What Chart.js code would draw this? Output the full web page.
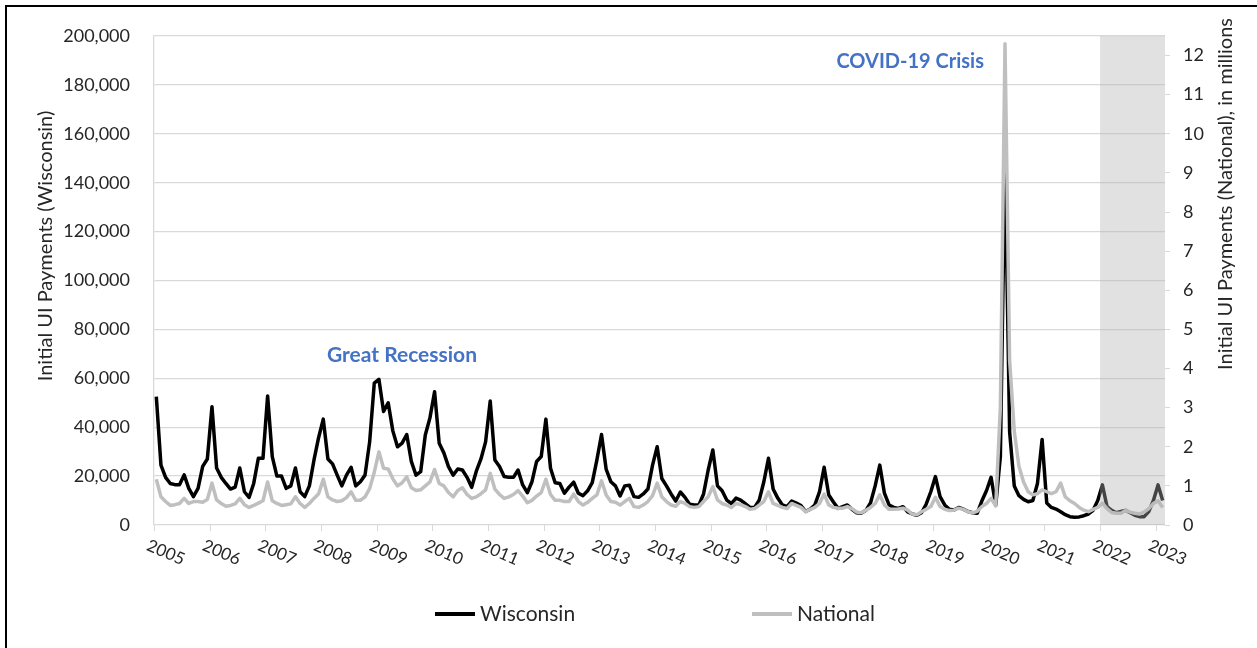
<!DOCTYPE html>
<html>
<head>
<meta charset="utf-8">
<title>Initial UI Payments: Wisconsin vs National</title>
<script src="https://cdn.jsdelivr.net/npm/chart.js@4.4.0/dist/chart.umd.min.js"></script>
<style>
  html, body { margin: 0; padding: 0; background: #fff; }
  #wrap { position: relative; width: 1257px; height: 648px; }
</style>
</head>
<body>
<div id="wrap"><canvas id="uiChart"></canvas></div>
<script>
// Year tick labels on the x axis
const years = [2005, 2006, 2007, 2008, 2009, 2010, 2011, 2012, 2013, 2014,
               2015, 2016, 2017, 2018, 2019, 2020, 2021, 2022, 2023];

// Monthly initial UI payments, Jan 2005 - Feb 2023
const wisconsin = [
  52500, 24500, 19500, 17000, 16500, 16500, 20500, 15000, 11600, 15000, 24000, 27000, // 2005
  48400, 23300, 19500, 17000, 14700, 15500, 23300, 13600, 11300, 17000, 27300, 27300, // 2006
  52800, 28000, 20000, 20000, 15000, 16000, 23300, 13600, 11600, 16000, 26600, 35800, // 2007
  43300, 27000, 25000, 20400, 16000, 20400, 23600, 16000, 17700, 20400, 34000, 58000, // 2008
  59600, 46400, 50000, 38500, 32000, 33500, 37000, 25900, 20400, 21800, 36800, 43800, // 2009
  54500, 33400, 29500, 23900, 20400, 22900, 22500, 19500, 15400, 22000, 27000, 34000, // 2010
  50700, 26600, 23900, 19800, 19500, 19500, 22500, 16400, 13200, 17700, 26000, 28000, // 2011
  43300, 23200, 17300, 17000, 13000, 15500, 17500, 13000, 12000, 14000, 17300, 26600, // 2012
  37000, 22800, 17700, 16000, 11900, 16000, 16300, 11600, 11300, 12700, 14700, 24500, // 2013
  32000, 19000, 16000, 12700,  9800, 13500, 11300,  8500,  8200,  8200, 12700, 22500, // 2014
  30700, 16000, 14000, 10200,  8700, 11000, 10200,  8700,  7200,  7200, 10200, 17700, // 2015
  27300, 14700, 11000,  8200,  7500,  9800,  9000,  8000,  5500,  6500,  8200, 13600, // 2016
  23600, 12300,  9400,  6800,  7500,  8200,  6400,  5000,  4800,  6000,  9000, 16000, // 2017
  24500, 13000,  8200,  7200,  6800,  7500,  5400,  4500,  4000,  5000,  8500, 13600, // 2018
  19800, 11600,  8200,  6400,  6100,  7200,  6500,  5500,  5000,  4800,  9800, 14000, // 2019
  19500,  8000, 28000, 150000, 38000, 16000, 12000, 10500, 9500, 10000, 17000, 35000, // 2020
   9000,  7200,  6500,  5400,  4200,  3400,  3200,  3300,  3800,  4500,  6000, 10000, // 2021
  16400,  7500,  6000,  5000,  5500,  6000,  5000,  4000,  3400,  3400,  5500, 10000, // 2022
  16400, 10000                                                                        // 2023
];

// National, in millions
const national = [
  1.17, 0.72, 0.60, 0.50, 0.52, 0.55, 0.68, 0.55, 0.60, 0.60, 0.58, 0.65, // 2005
  1.07, 0.64, 0.55, 0.48, 0.50, 0.54, 0.68, 0.52, 0.45, 0.50, 0.56, 0.62, // 2006
  1.10, 0.62, 0.55, 0.50, 0.52, 0.54, 0.72, 0.55, 0.45, 0.55, 0.68, 0.80, // 2007
  1.17, 0.72, 0.64, 0.60, 0.62, 0.70, 0.85, 0.63, 0.63, 0.72, 0.93, 1.35, // 2008
  1.87, 1.45, 1.43, 1.18, 1.00, 1.08, 1.23, 0.95, 0.88, 0.90, 1.00, 1.10, // 2009
  1.42, 1.06, 1.00, 0.83, 0.72, 0.88, 0.95, 0.78, 0.68, 0.72, 0.80, 0.90, // 2010
  1.32, 0.92, 0.78, 0.68, 0.72, 0.78, 0.88, 0.74, 0.57, 0.63, 0.74, 0.83, // 2011
  1.17, 0.78, 0.63, 0.63, 0.60, 0.60, 0.79, 0.60, 0.51, 0.58, 0.68, 0.77, // 2012
  1.13, 0.77, 0.60, 0.58, 0.51, 0.60, 0.68, 0.47, 0.45, 0.51, 0.60, 0.75, // 2013
  1.07, 0.72, 0.60, 0.51, 0.48, 0.60, 0.55, 0.47, 0.45, 0.47, 0.60, 0.72, // 2014
  0.98, 0.64, 0.55, 0.51, 0.45, 0.55, 0.52, 0.47, 0.40, 0.42, 0.51, 0.60, // 2015
  0.85, 0.55, 0.50, 0.45, 0.42, 0.55, 0.50, 0.45, 0.34, 0.40, 0.45, 0.55, // 2016
  0.79, 0.51, 0.45, 0.43, 0.43, 0.47, 0.42, 0.33, 0.31, 0.38, 0.45, 0.55, // 2017
  0.77, 0.51, 0.40, 0.40, 0.41, 0.43, 0.38, 0.28, 0.26, 0.34, 0.40, 0.47, // 2018
  0.71, 0.47, 0.40, 0.37, 0.38, 0.43, 0.40, 0.34, 0.31, 0.35, 0.47, 0.55, // 2019
  0.68, 0.49, 3.00, 12.3, 4.20, 2.40, 1.50, 1.10, 0.85, 0.77, 0.80, 0.90, // 2020
  0.85, 0.80, 0.85, 1.07, 0.72, 0.62, 0.55, 0.45, 0.38, 0.34, 0.40, 0.45, // 2021
  0.56, 0.42, 0.32, 0.30, 0.30, 0.37, 0.33, 0.30, 0.28, 0.33, 0.42, 0.55, // 2022
  0.62, 0.45                                                              // 2023
];

const seriesNames = ['Wisconsin', 'National'];
const leftTitle = 'Initial UI Payments (Wisconsin)';
const rightTitle = 'Initial UI Payments (National), in millions';
const shadeFrom = '2022-01';

// Build monthly category labels from the years
const monthLabels = [];
years.forEach(function(y) {
    for (let m = 1; m <= 12 && monthLabels.length < wisconsin.length; m++) {
        monthLabels.push(y + '-' + String(m).padStart(2, '0'));
    }
});

const FONT = 'Lato, "Open Sans", sans-serif';
const TEXT = '#262626';

function drawVerticalTitle(ctx, text, cx, cy) {
    ctx.save();
    ctx.translate(cx, cy);
    ctx.rotate(-Math.PI / 2);
    ctx.fillText(text, 0, 0);
    ctx.restore();
}

// Draws the pieces Excel has but Chart.js doesn't: shaded period, rotated year labels,
// axis titles, annotations, bottom legend and the outer frame
const decorPlugin = {
    id: 'decor',
    afterDatasetsDraw: function(chart) {
        const ctx = chart.ctx;
        const area = chart.chartArea;
        const x = chart.scales.x;
        const step = area.width / monthLabels.length;
        const start = x.getPixelForValue(monthLabels.indexOf(shadeFrom)) - step / 2;
        ctx.save();
        ctx.fillStyle = 'rgba(179, 179, 179, 0.39)';
        ctx.fillRect(start, area.top, area.right - start, area.bottom - area.top);
        ctx.restore();
    },
    afterDraw: function(chart) {
        const ctx = chart.ctx;
        const area = chart.chartArea;
        const x = chart.scales.x;
        const y = chart.scales.y;
        const step = area.width / monthLabels.length;

        ctx.save();

        // year tick marks and rotated labels
        ctx.strokeStyle = '#d9d9d9';
        ctx.lineWidth = 1;
        ctx.fillStyle = TEXT;
        ctx.font = '17px ' + FONT;
        ctx.textAlign = 'left';
        ctx.textBaseline = 'top';
        years.forEach(function(yr, k) {
            const px = x.getPixelForValue(k * 12) - step / 2;
            ctx.beginPath();
            ctx.moveTo(Math.round(px) + 0.5, area.bottom);
            ctx.lineTo(Math.round(px) + 0.5, area.bottom + 6);
            ctx.stroke();
            ctx.save();
            ctx.translate(px - 3, area.bottom + 12);
            ctx.rotate(23 * Math.PI / 180);
            ctx.fillText(String(yr), 0, 0);
            ctx.restore();
        });

        // axis titles
        ctx.font = '20px ' + FONT;
        ctx.textAlign = 'center';
        ctx.textBaseline = 'middle';
        drawVerticalTitle(ctx, leftTitle, 46, 246);
        drawVerticalTitle(ctx, rightTitle, 1226, 194);

        // annotations
        ctx.fillStyle = '#4472c4';
        ctx.font = 'bold 21px ' + FONT;
        ctx.textAlign = 'left';
        ctx.fillText('Great Recession', x.getPixelForValue(37) - 1, y.getPixelForValue(69500));
        ctx.font = 'bold 20px ' + FONT;
        ctx.fillText('COVID-19 Crisis', x.getPixelForValue(146) + 3, y.getPixelForValue(189500));

        // legend
        const legendY = 614;
        const items = [[435, 0], [752, 1]];
        ctx.font = '21px ' + FONT;
        items.forEach(function(it) {
            const ds = chart.data.datasets[it[1]];
            ctx.strokeStyle = ds.borderColor;
            ctx.lineWidth = 4;
            ctx.beginPath();
            ctx.moveTo(it[0], legendY);
            ctx.lineTo(it[0] + 40, legendY);
            ctx.stroke();
            ctx.fillStyle = TEXT;
            ctx.fillText(ds.label, it[0] + 45, legendY);
        });

        // outer frame (cropped on the right and bottom)
        ctx.strokeStyle = '#000';
        ctx.lineWidth = 2;
        ctx.beginPath();
        ctx.moveTo(6, chart.height);
        ctx.lineTo(6, 6);
        ctx.lineTo(chart.width, 6);
        ctx.stroke();

        ctx.restore();
    }
};

const uiChart = new Chart(document.getElementById('uiChart'), {
    type: 'line',
    data: {
        labels: monthLabels,
        datasets: [{
            label: seriesNames[0],
            data: wisconsin,
            yAxisID: 'y',
            borderColor: '#000000',
            borderWidth: 3.5,
            pointRadius: 0,
            tension: 0,
            borderJoinStyle: 'round',
            order: 2
        }, {
            label: seriesNames[1],
            data: national,
            yAxisID: 'y1',
            borderColor: '#bfbfbf',
            borderWidth: 3.5,
            pointRadius: 0,
            tension: 0,
            borderJoinStyle: 'round',
            order: 1
        }]
    },
    options: {
        responsive: true,
        maintainAspectRatio: false,
        animation: false,
        layout: {
            padding: { left: 0, right: 0, top: 36, bottom: 117 }
        },
        scales: {
            x: {
                offset: true,
                grid: { display: false },
                border: { display: false },
                ticks: { display: false },
                afterFit: function(scale) { scale.height = 6; }
            },
            y: {
                position: 'left',
                min: 0,
                max: 200000,
                grid: { color: '#d9d9d9', lineWidth: 1.3, drawTicks: false },
                border: { display: true, color: '#d9d9d9', width: 1.3 },
                ticks: {
                    stepSize: 20000,
                    padding: 24,
                    color: TEXT,
                    font: { family: FONT, size: 18 },
                    callback: function(v) { return v.toLocaleString('en-US'); }
                },
                afterFit: function(scale) { scale.width = 154; }
            },
            y1: {
                position: 'right',
                min: 0,
                max: 12.5,
                grid: { drawOnChartArea: false, color: '#d9d9d9', tickLength: 5 },
                border: { display: false },
                ticks: {
                    stepSize: 1,
                    includeBounds: false,
                    padding: 13,
                    color: TEXT,
                    font: { family: FONT, size: 18 }
                },
                afterFit: function(scale) { scale.width = 92; }
            }
        },
        plugins: {
            legend: { display: false },
            tooltip: { enabled: false }
        }
    },
    plugins: [decorPlugin]
});
</script>
</body>
</html>
